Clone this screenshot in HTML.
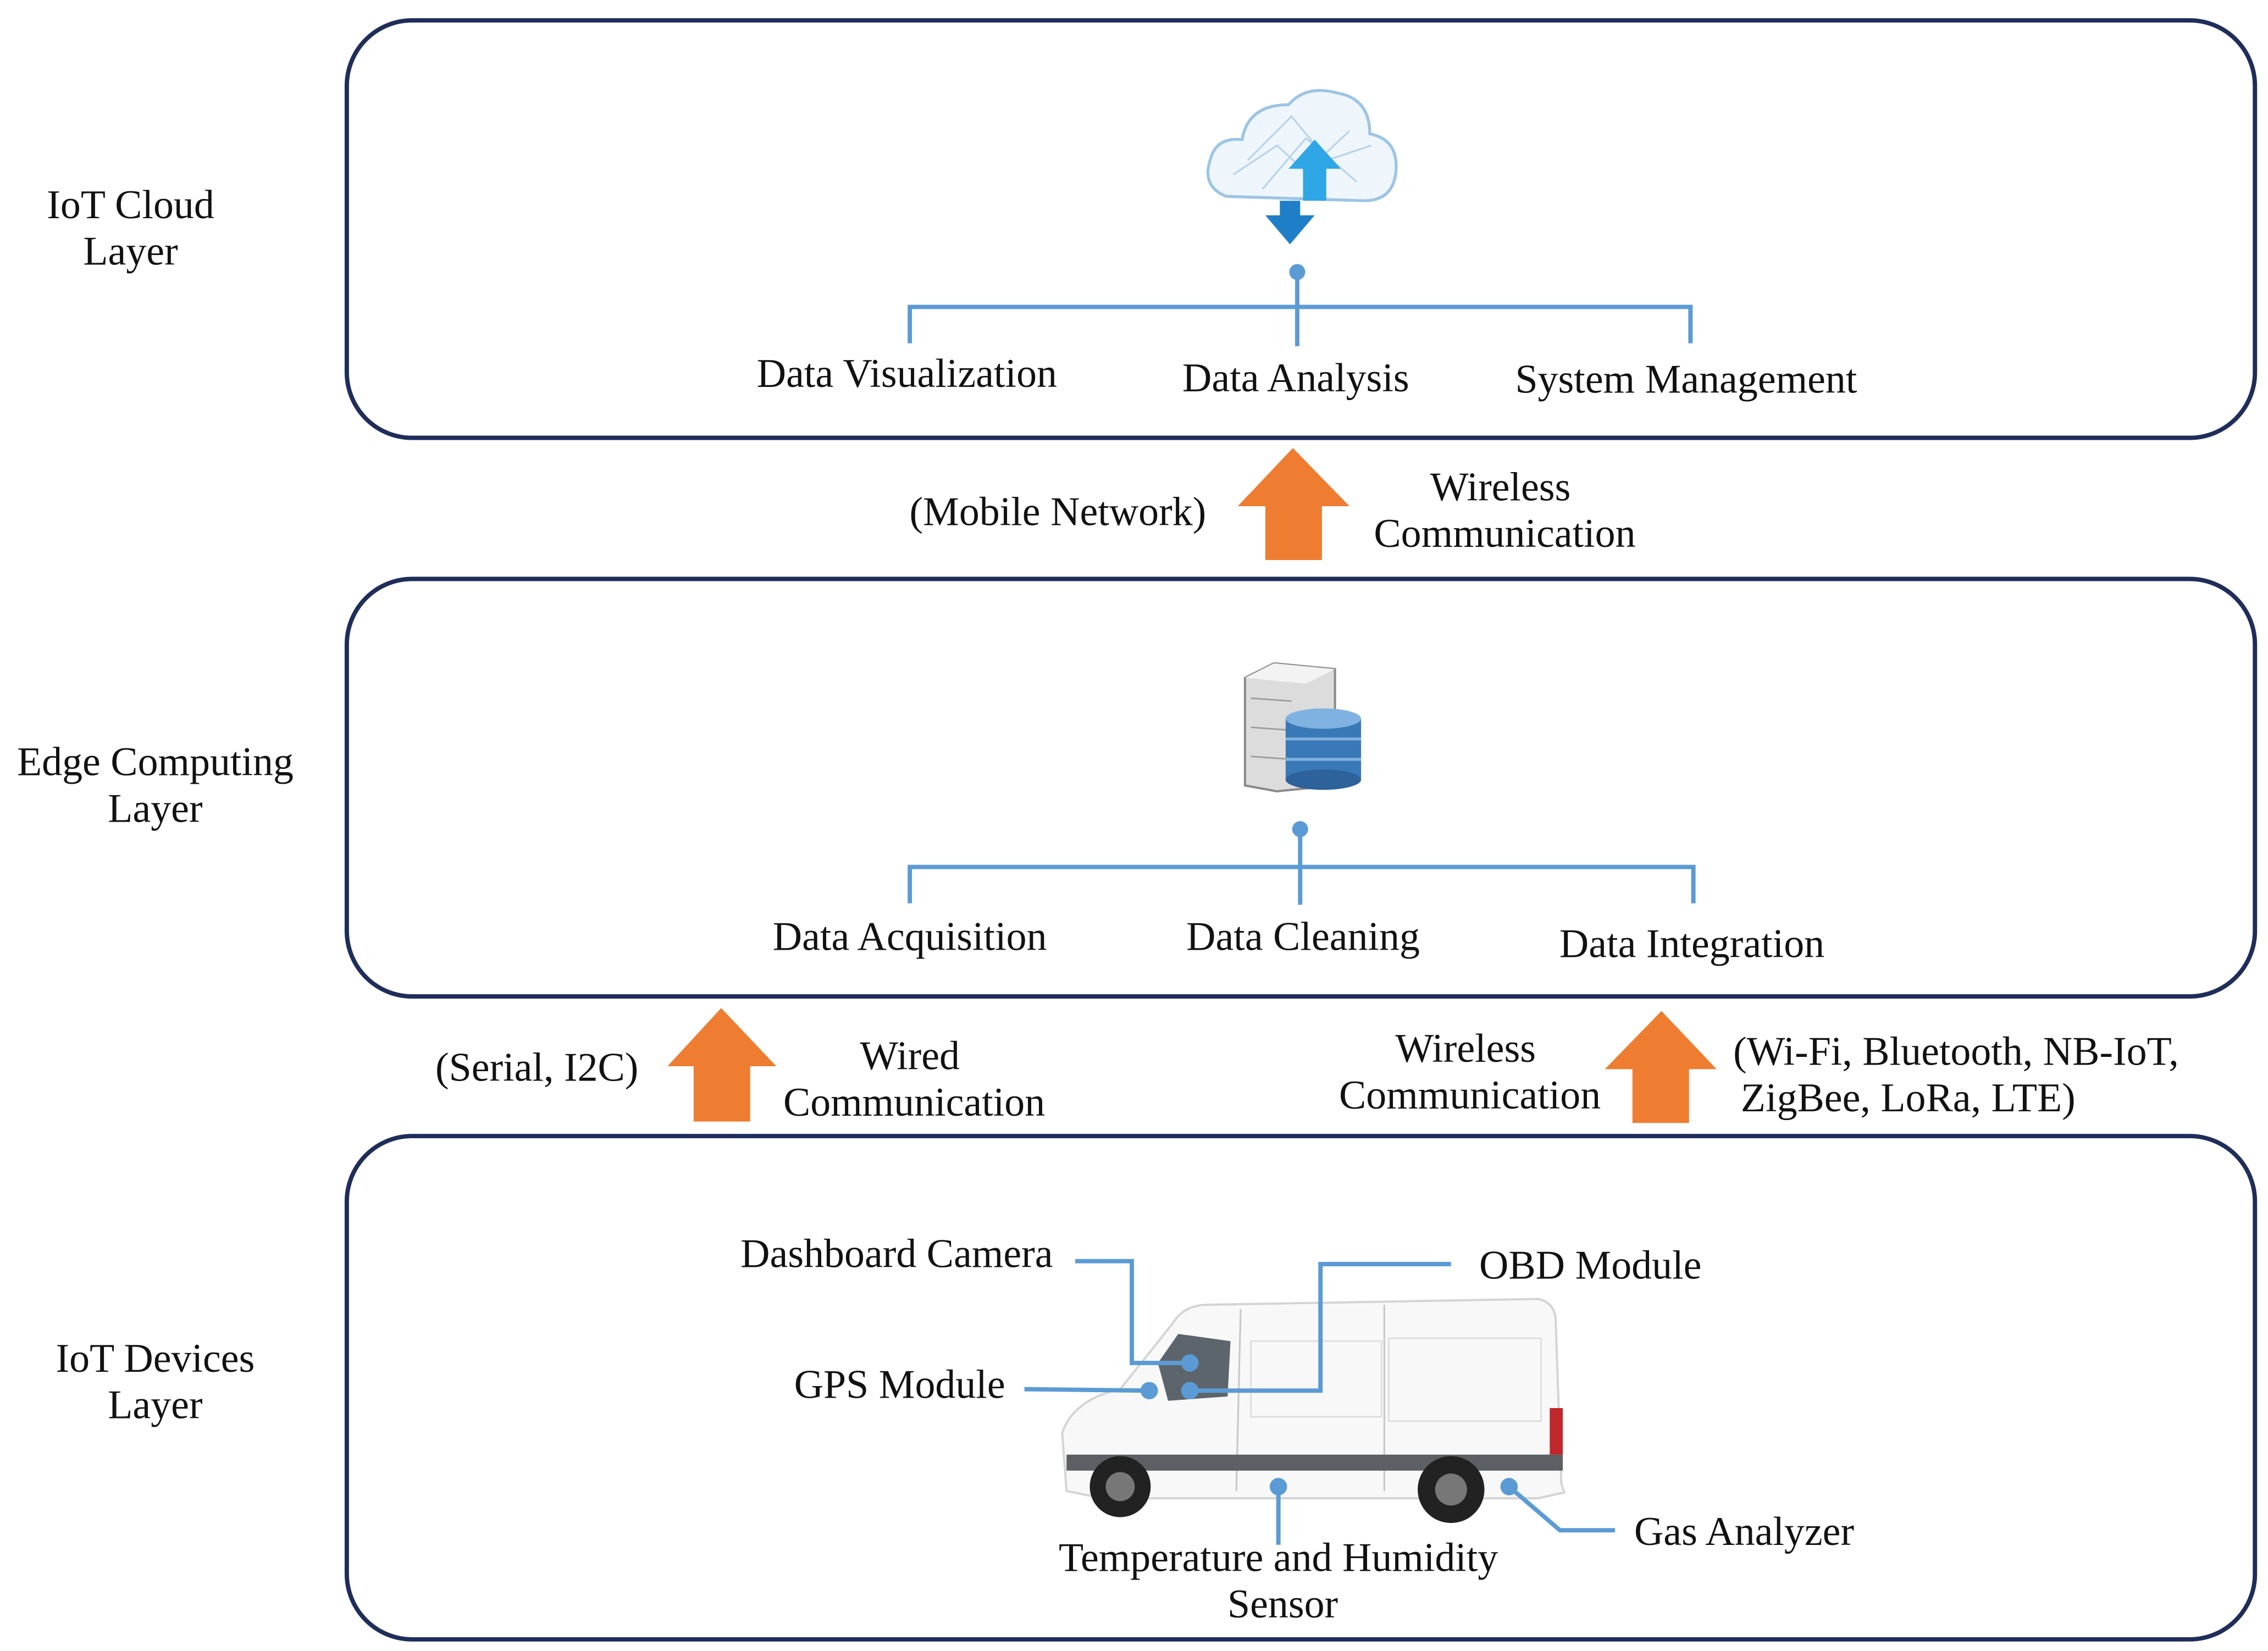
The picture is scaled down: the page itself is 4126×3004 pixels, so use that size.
<!DOCTYPE html>
<html><head><meta charset="utf-8"><style>
html,body{margin:0;padding:0;background:#fff;}
svg{display:block;}
text{font-family:"Liberation Serif",serif;fill:#111;font-size:28px;}
</style></head><body>
<svg width="4126" height="3004" viewBox="0 0 1563 1135" preserveAspectRatio="none" xmlns="http://www.w3.org/2000/svg">
<g fill="none" stroke="#1f2d5a" stroke-width="3">
<rect x="239" y="14" width="1315" height="287" rx="45"/>
<rect x="239" y="398" width="1315" height="287" rx="45"/>
<rect x="239" y="781" width="1315" height="346" rx="45"/>
</g>
<text x="90" y="150" text-anchor="middle">IoT Cloud</text>
<text x="90" y="182" text-anchor="middle">Layer</text>
<text x="107" y="533" text-anchor="middle">Edge Computing</text>
<text x="107" y="565" text-anchor="middle">Layer</text>
<text x="107" y="943" text-anchor="middle">IoT Devices</text>
<text x="107" y="975" text-anchor="middle">Layer</text>

<g>
<path d="M845 135 Q828 128 834 110 Q838 94 856 96 Q860 72 888 72 Q900 58 922 64 Q944 68 944 92 Q964 96 962 118 Q960 138 940 138 Z" fill="#eef5fb" stroke="#9cc4e4" stroke-width="2"/>
<path d="M850 120 L880 100 L900 118 L930 90 M860 110 L890 80 L915 110 L945 100 M870 130 L900 95 L935 125" stroke="#b7d3ea" stroke-width="1.2" fill="none"/>
<polygon points="906,96 924,116 914,116 914,138 898,138 898,116 888,116" fill="#2fa6e6"/>
<polygon points="882,138 896,138 896,148 906,148 889,168 872,148 882,148" fill="#1e7fc8"/>
</g>
<g stroke="#5b9bd5" stroke-width="3" fill="none">
<line x1="894" y1="187" x2="894" y2="238"/>
<polyline points="627,236 627,211 1165,211 1165,236"/>
</g>
<circle cx="894" cy="187" r="5.5" fill="#5b9bd5"/>
<text x="625" y="266" text-anchor="middle">Data Visualization</text>
<text x="893" y="269" text-anchor="middle">Data Analysis</text>
<text x="1162" y="270" text-anchor="middle">System Management</text>

<polygon points="891,308 930,348 911,348 911,385 872,385 872,348 853,348" fill="#ee7d31"/>
<text x="729" y="361" text-anchor="middle">(Mobile Network)</text>
<text x="1034" y="344" text-anchor="middle">Wireless</text>
<text x="1037" y="376" text-anchor="middle">Communication</text>

<g>
<polygon points="858,466 878,456 920,460 920,540 880,544 858,540" fill="#dcdcdc" stroke="#888" stroke-width="1.5"/>
<polygon points="858,466 878,456 920,460 900,470" fill="#f3f3f3"/>
<line x1="862" y1="480" x2="890" y2="482" stroke="#999"/>
<line x1="862" y1="500" x2="890" y2="502" stroke="#999"/>
<line x1="862" y1="520" x2="890" y2="522" stroke="#999"/>
<rect x="886" y="494" width="52" height="42" fill="#3a79b8"/>
<ellipse cx="912" cy="536" rx="26" ry="7" fill="#2d629b"/>
<ellipse cx="912" cy="494" rx="26" ry="7" fill="#7fb2e0"/>
<line x1="886" y1="508" x2="938" y2="508" stroke="#7fb2e0" stroke-width="2"/>
<line x1="886" y1="522" x2="938" y2="522" stroke="#7fb2e0" stroke-width="2"/>
</g>
<g stroke="#5b9bd5" stroke-width="3" fill="none">
<line x1="896" y1="570" x2="896" y2="622"/>
<polyline points="627,621 627,596 1167,596 1167,621"/>
</g>
<circle cx="896" cy="570" r="5.5" fill="#5b9bd5"/>
<text x="627" y="653" text-anchor="middle">Data Acquisition</text>
<text x="898" y="653" text-anchor="middle">Data Cleaning</text>
<text x="1166" y="658" text-anchor="middle">Data Integration</text>

<polygon points="497,693 535,733 517,733 517,771 478,771 478,733 460,733" fill="#ee7d31"/>
<polygon points="1145,695 1183,735 1164,735 1164,772 1125,772 1125,735 1106,735" fill="#ee7d31"/>
<text x="370" y="743" text-anchor="middle">(Serial, I2C)</text>
<text x="627" y="735" text-anchor="middle">Wired</text>
<text x="630" y="767" text-anchor="middle">Communication</text>
<text x="1010" y="730" text-anchor="middle">Wireless</text>
<text x="1013" y="762" text-anchor="middle">Communication</text>
<text x="1348" y="732" text-anchor="middle">(Wi-Fi, Bluetooth, NB-IoT,</text>
<text x="1315" y="764" text-anchor="middle">ZigBee, LoRa, LTE)</text>

<g>
<path d="M735 1025 L732 985 Q740 962 772 955 L808 910 Q815 898 830 897 L1060 893 Q1070 895 1072 905 L1076 1020 L1078 1026 L1060 1030 L760 1030 Z" fill="#f8f8f8" stroke="#d4d4d4" stroke-width="1.5"/>
<path d="M798 937 L812 917 L848 922 L846 960 L805 963 Z" fill="#5d656c"/>
<line x1="855" y1="900" x2="852" y2="1025" stroke="#c8c8c8" stroke-width="1.2"/>
<line x1="954" y1="897" x2="954" y2="1025" stroke="#c8c8c8" stroke-width="1.2"/>
<rect x="862" y="922" width="90" height="52" fill="none" stroke="#dcdcdc"/>
<rect x="957" y="920" width="105" height="57" fill="none" stroke="#dcdcdc"/>
<rect x="735" y="1000" width="342" height="11" fill="#5c5f63"/>
<rect x="1068" y="968" width="9" height="32" fill="#c0282b"/>
<circle cx="772" cy="1022" r="21" fill="#222"/>
<circle cx="772" cy="1022" r="10" fill="#777"/>
<circle cx="1000" cy="1024" r="23" fill="#222"/>
<circle cx="1000" cy="1024" r="11" fill="#777"/>
</g>
<g stroke="#5b9bd5" stroke-width="3" fill="none">
<polyline points="741,867 780,867 780,937 820,937"/>
<polyline points="1000,869 910,869 910,956 820,956"/>
<line x1="706" y1="955" x2="792" y2="956"/>
<line x1="881" y1="1022" x2="881" y2="1062"/>
<polyline points="1040,1022 1075,1052 1113,1052"/>
</g>
<g fill="#5b9bd5">
<circle cx="820" cy="937" r="6"/>
<circle cx="792" cy="956" r="6"/>
<circle cx="820" cy="956" r="6"/>
<circle cx="881" cy="1022" r="6"/>
<circle cx="1040" cy="1022" r="6"/>
</g>
<text x="618" y="871" text-anchor="middle">Dashboard Camera</text>
<text x="1096" y="879" text-anchor="middle">OBD Module</text>
<text x="620" y="961" text-anchor="middle">GPS Module</text>
<text x="1202" y="1062" text-anchor="middle">Gas Analyzer</text>
<text x="881" y="1080" text-anchor="middle">Temperature and Humidity</text>
<text x="884" y="1112" text-anchor="middle">Sensor</text>
</svg>
</body></html>
